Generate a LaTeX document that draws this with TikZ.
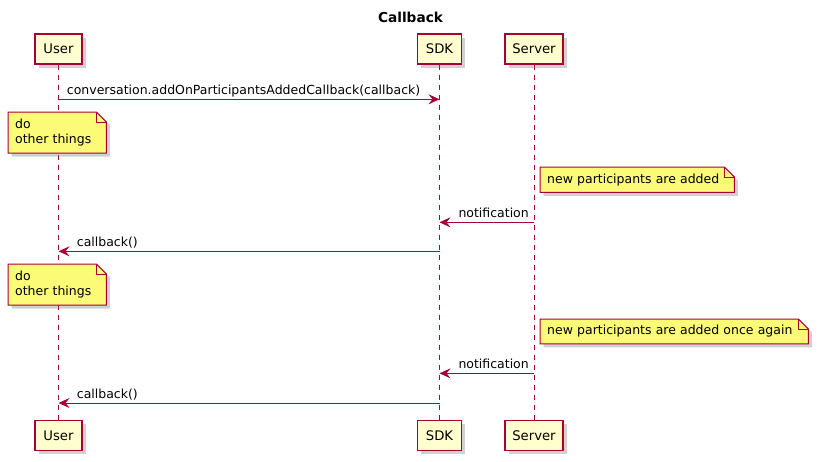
\documentclass[tikz,border=0pt]{standalone}
\usepackage{fontspec}
\setmainfont{DejaVu Sans}
\usetikzlibrary{arrows.meta,shadows}
\definecolor{pborder}{HTML}{A80036}
\definecolor{pfill}{HTML}{FEFECE}
\definecolor{nfill}{HTML}{FBFB77}
\pgfdeclarelayer{bg}
\pgfdeclarelayer{mid}
\pgfsetlayers{bg,mid,main}
\tikzset{
  participant/.style={draw=pborder, line width=1.2pt, fill=pfill, minimum width=#1, minimum height=30pt,
    inner sep=0pt, font=\fontsize{13.2pt}{15pt}\selectfont,
    drop shadow={shadow xshift=3.5pt, shadow yshift=-3.5pt, opacity=0.3, fill=black!60}},
  lifeline/.style={draw=pborder, line width=0.9pt, dash pattern=on 5pt off 5pt},
  msg/.style={draw=pborder, line width=1pt, -{Stealth[length=11pt, width=10pt, inset=4pt]}},
  msglabel/.style={font=\fontsize{12.5pt}{15pt}\selectfont, inner sep=0pt, anchor=base west},
  notetext/.style={font=\fontsize{12.5pt}{15pt}\selectfont, inner xsep=7pt, inner ysep=0pt, align=left,
    anchor=north west, text width=#1},
  noteshape/.style={draw=pborder, line width=1pt, fill=nfill,
    drop shadow={shadow xshift=3.5pt, shadow yshift=-3.5pt, opacity=0.3, fill=black!60}},
  notefold/.style={draw=pborder, line width=1pt},
  title/.style={font=\bfseries\fontsize{13.7pt}{16pt}\selectfont, inner sep=0pt}
}
\newcommand\drawnote[1]{%
  \begin{pgfonlayer}{mid}
  \path[noteshape] (#1.north west) -- ([xshift=-10pt]#1.north east) -- ([yshift=-10pt]#1.north east)
    -- (#1.south east) -- (#1.south west) -- cycle;
  \path[notefold] ([xshift=-10pt]#1.north east) -- ([xshift=-10pt,yshift=-10pt]#1.north east)
    -- ([yshift=-10pt]#1.north east);
  \end{pgfonlayer}}
\begin{document}
\begin{tikzpicture}[x=1pt, y=-1pt]
\useasboundingbox (0,0) rectangle (819,461);

\node[title] (title) at (410.5,17) {Callback};

% participants
\node[participant=47pt] (userT) at (58.5,49) {User};
\node[participant=44pt] (sdkT) at (439.5,49) {SDK};
\node[participant=58pt] (serverT) at (534,49) {Server};
\node[participant=47pt] (userB) at (58.5,435.5) {User};
\node[participant=44pt] (sdkB) at (439.5,435.5) {SDK};
\node[participant=58pt] (serverB) at (534,435.5) {Server};

\begin{pgfonlayer}{bg}
\draw[lifeline] (userT.south) -- (userB.north);
\draw[lifeline] (sdkT.south) -- (sdkB.north);
\draw[lifeline] (serverT.south) -- (serverB.north);
\end{pgfonlayer}

% message coordinates
\coordinate (m1a) at (58.5,99.3);  \coordinate (m1b) at (439.5,99.3);
\coordinate (m2a) at (534,222.3);  \coordinate (m2b) at (439.5,222.3);
\coordinate (m3a) at (439.5,251.3); \coordinate (m3b) at (58.5,251.3);
\coordinate (m4a) at (534,373.3);  \coordinate (m4b) at (439.5,373.3);
\coordinate (m5a) at (439.5,403);  \coordinate (m5b) at (58.5,403);

\draw[msg] (m1a) -- (m1b);
\node[msglabel] (l1) at (66.7,94.8) {conversation.addOnParticipantsAddedCallback(callback)};

\node[notetext=84pt, minimum height=40.7pt] (n1) at (8,112) {do\\other things};
\drawnote{n1}

\node[notetext=180pt, minimum height=25pt] (n2) at (540,167) {new participants are added};
\drawnote{n2}

\draw[msg] (m2a) -- (m2b);
\node[msglabel] (l2) at (458.3,217.6) {notification};

\draw[msg] (m3a) -- (m3b);
\node[msglabel] (l3) at (76.7,246.6) {callback()};

\node[notetext=84pt, minimum height=40.7pt] (n3) at (8,264) {do\\other things};
\drawnote{n3}

\node[notetext=254pt, minimum height=24.5pt] (n4) at (540,319) {new participants are added once again};
\drawnote{n4}

\draw[msg] (m4a) -- (m4b);
\node[msglabel] (l4) at (458.3,368.6) {notification};

\draw[msg] (m5a) -- (m5b);
\node[msglabel] (l5) at (76.7,398.3) {callback()};
\end{tikzpicture}
\end{document}
